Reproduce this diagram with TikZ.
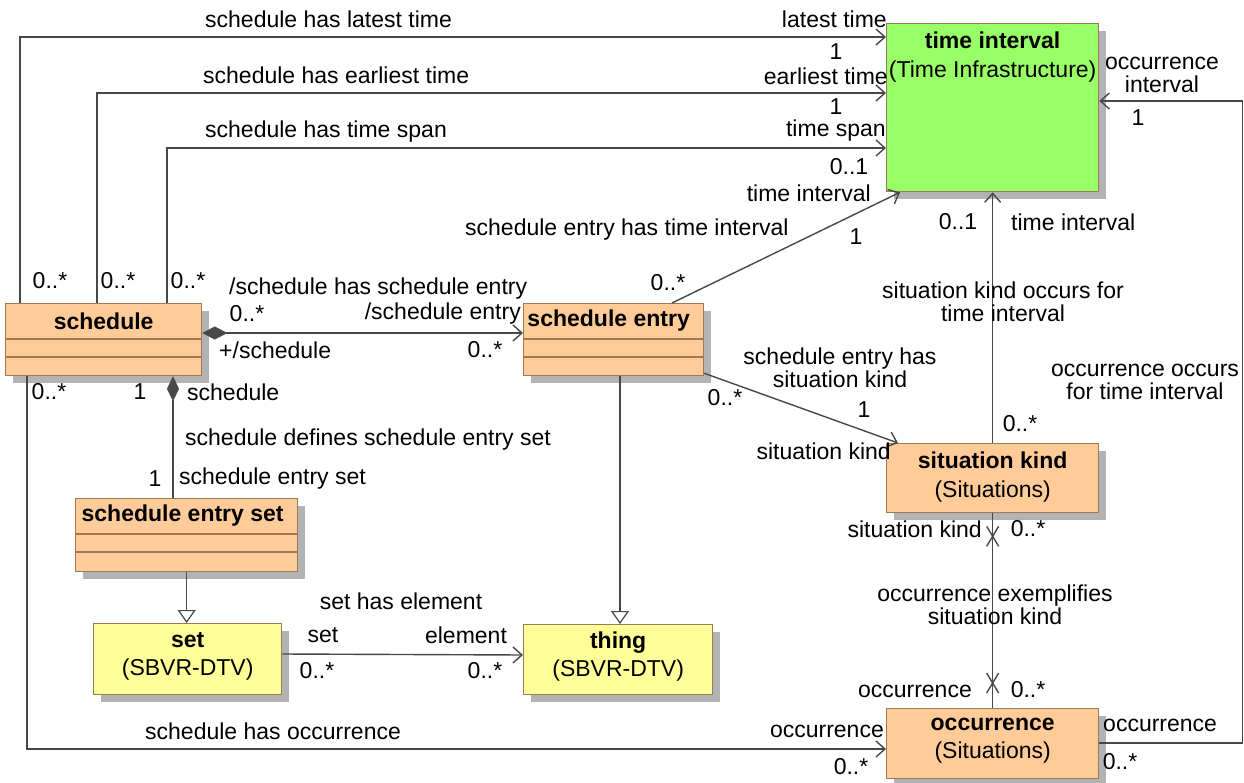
\documentclass[tikz,border=0pt]{standalone}
\usepackage{fontspec}
\setmainfont{Liberation Sans}
\usetikzlibrary{arrows.meta,calc,shadows}
\definecolor{orangef}{HTML}{FFCC99}
\definecolor{greenf}{HTML}{99FF66}
\definecolor{yellowf}{HTML}{FFFF99}
\definecolor{boxd}{HTML}{9C7A58}
\definecolor{shadowc}{HTML}{B3B3B3}
\definecolor{linec}{HTML}{484848}
\newcommand\lblfont{\fontsize{23}{23.5}\selectfont}
\newcommand\ttlfont{\fontsize{23}{28.5}\selectfont}
\tikzset{
  lbl/.style={inner sep=0pt, font=\lblfont, text=black},
  ttl/.style={inner sep=0pt, font=\ttlfont, text=black},
  umlbox/.style={draw=boxd, line width=1.3pt, anchor=north west, inner sep=0pt,
    drop shadow={shadow xshift=7pt, shadow yshift=-7pt, fill=shadowc, opacity=1}},
  compline/.style={draw=boxd, line width=1.3pt},
  conn/.style={draw=linec, line width=1.4pt},
  assoc/.style={conn, -{Straight Barb[length=9pt,width=16pt,line width=1.4pt]}},
  comp/.style={conn, {Diamond[length=25pt,width=13pt,fill=linec,line width=0.5pt]}-{Straight Barb[length=9pt,width=16pt,line width=1.4pt]}},
  compv/.style={conn, {Diamond[length=25pt,width=12pt,fill=linec,line width=0.5pt]}-},
  gen/.style={conn, -{Triangle[open,length=13pt,width=18pt,fill=white,line width=1.2pt]}},
}
\begin{document}
\begin{tikzpicture}[x=1pt,y=-1pt]
\useasboundingbox (0,0) rectangle (1244,783);
% boxes
\node[umlbox, fill=greenf, minimum width=212pt, minimum height=168pt] (ti) at (886,23) {};
\node[umlbox, fill=orangef, minimum width=196pt, minimum height=72pt] (sched) at (5,303) {};
\node[umlbox, fill=orangef, minimum width=180pt, minimum height=72pt] (entry) at (523,303) {};
\node[umlbox, fill=orangef, minimum width=212pt, minimum height=69pt] (sk) at (886,443) {};
\node[umlbox, fill=orangef, minimum width=212pt, minimum height=70pt] (occ) at (886,708) {};
\node[umlbox, fill=orangef, minimum width=222pt, minimum height=73pt] (ses) at (75,498) {};
\node[umlbox, fill=yellowf, minimum width=188pt, minimum height=71pt] (set) at (93,623) {};
\node[umlbox, fill=yellowf, minimum width=189pt, minimum height=70pt] (thing) at (523,624) {};
% compartments
\foreach \b in {sched,entry,ses}{
  \draw[compline] ($(\b.north west)+(0,36)$) -- ($(\b.north east)+(0,36)$);
  \draw[compline] ($(\b.north west)+(0,54)$) -- ($(\b.north east)+(0,54)$);
}
% box titles
\node[ttl, align=center] (tiT) at ($(ti.north)+(0,34)$) {\textbf{time interval}\\(Time Infrastructure)};
\node[ttl] (schedT) at ($(sched.north)+(0,18)$) {\textbf{schedule}};
\node[ttl] (entryT) at ($(entry.north)+(-5,18)$) {\textbf{schedule entry}};
\node[ttl] (sesT) at ($(ses.north)+(-4,18)$) {\textbf{schedule entry set}};
\node[ttl, align=center] (skT) at ($(sk.center)+(0,-1)$) {\textbf{situation kind}\\(Situations)};
\node[ttl, align=center] (occT) at ($(occ.center)+(0,-3)$) {\textbf{occurrence}\\(Situations)};
\node[ttl, align=center] (setT) at ($(set.center)+(0,-3)$) {\textbf{set}\\(SBVR-DTV)};
\node[ttl, align=center] (thingT) at ($(thing.center)+(0,-3)$) {\textbf{thing}\\(SBVR-DTV)};
% helper coordinates
\coordinate (thtop) at ($(thing.north west)+(97,0)$);
\coordinate (occR) at ($(occ.north east)+(0,35)$);
\coordinate (tiR) at ($(ti.north east)+(0,78)$);
\coordinate (rightbend) at ($(occR)+(143,0)$);
% connectors
\draw[assoc] ($(sched.north west)+(15,0)$) |- ($(ti.north west)+(0,14)$);
\draw[assoc] ($(sched.north west)+(92,0)$) |- ($(ti.north west)+(0,70)$);
\draw[assoc] ($(sched.north west)+(162,0)$) |- ($(ti.north west)+(0,125)$);
\draw[assoc] ($(entry.north west)+(149,0)$) -- ($(ti.south west)+(14,0)$);
\draw[assoc] (sk.north) -- (ti.south);
\draw[assoc] ($(entry.south east)+(0,-3)$) -- ($(sk.north west)+(12,0)$);
\draw[comp] ($(sched.north east)+(0,30)$) -- ($(entry.north west)+(0,30)$);
\draw[compv] ($(sched.south west)+(168,0)$) -- ($(ses.north west)+(98,0)$);
\draw[gen] (ses.south) -- (ses.south |- set.north);
\draw[gen] (thtop |- entry.south) -- (thtop);
\draw[assoc] ($(set.north east)+(0,31)$) -- ($(thing.north west)+(0,31)$);
\draw[conn] (sk.south) -- (occ.north);
\draw[conn] ($(sk.south)+(-6,13)$) -- ($(sk.south)+(6,33)$);
\draw[conn] ($(sk.south)+(6,13)$) -- ($(sk.south)+(-6,33)$);
\draw[conn] ($(occ.north)+(-6,-35)$) -- ($(occ.north)+(6,-15)$);
\draw[conn] ($(occ.north)+(6,-35)$) -- ($(occ.north)+(-6,-15)$);
\draw[assoc] (occR) -- (rightbend) |- (tiR);
\draw[assoc] ($(sched.south west)+(22,0)$) |- ($(occ.north west)+(0,41)$);
% labels
\node[lbl, anchor=west] (l1) at (205,19) {schedule has latest time};
\node[lbl, anchor=east] (l2) at (887,19) {latest time};
\node[lbl] (l3) at (836,52) {1};
\node[lbl, anchor=west] (l4) at (203,75) {schedule has earliest time};
\node[lbl, anchor=east] (l5) at (888,76) {earliest time};
\node[lbl] (l6) at (836,107) {1};
\node[lbl, anchor=west] (l7) at (205,132) {schedule has time span};
\node[lbl, anchor=east] (l8) at (886,131) {time span};
\node[lbl] (l9) at (849,167) {0..1};
\node[lbl, anchor=east] (l10) at (871,193) {time interval};
\node[lbl, anchor=west] (l11) at (465,230) {schedule entry has time interval};
\node[lbl] (l12) at (856,237) {1};
\node[lbl] (l13) at (668,283) {0..*};
\node[lbl] (l14) at (958,222) {0..1};
\node[lbl, anchor=west] (l15) at (1011,222) {time interval};
\node[lbl, align=center] (l16) at (1003,302) {situation kind occurs for\\time interval};
\node[lbl, align=center] (l17) at (1162,75) {occurrence\\interval};
\node[lbl] (l18) at (1138,118) {1};
\node[lbl, align=center] (l19) at (1145,382) {occurrence occurs\\for time interval};
\node[lbl] (l20) at (50,281) {0..*};
\node[lbl] (l21) at (118,281) {0..*};
\node[lbl] (l22) at (188,281) {0..*};
\node[lbl, anchor=west] (l23) at (229,289) {/schedule has schedule entry};
\node[lbl] (l24) at (247,314) {0..*};
\node[lbl, anchor=east] (l25) at (521,314) {/schedule entry};
\node[lbl, anchor=west] (l26) at (219,350) {+/schedule};
\node[lbl] (l27) at (485,350) {0..*};
\node[lbl] (l28) at (49,392) {0..*};
\node[lbl] (l29) at (140,392) {1};
\node[lbl, anchor=west] (l30) at (187,392) {schedule};
\node[lbl, anchor=west] (l31) at (185,440) {schedule defines schedule entry set};
\node[lbl] (l32) at (155,479) {1};
\node[lbl, anchor=west] (l33) at (179,479) {schedule entry set};
\node[lbl, align=center] (l34) at (840,368) {schedule entry has\\situation kind};
\node[lbl] (l35) at (725,398) {0..*};
\node[lbl] (l36) at (864,410) {1};
\node[lbl, anchor=east] (l37) at (891,451) {situation kind};
\node[lbl] (l38) at (1020,424) {0..*};
\node[lbl, anchor=east] (l39) at (982,529) {situation kind};
\node[lbl] (l40) at (1028,529) {0..*};
\node[lbl, align=center] (l41) at (995,605) {occurrence exemplifies\\situation kind};
\node[lbl, anchor=east] (l42) at (972,691) {occurrence};
\node[lbl] (l43) at (1028,690) {0..*};
\node[lbl, anchor=east] (l44) at (884,731) {occurrence};
\node[lbl] (l45) at (851,767) {0..*};
\node[lbl, anchor=west] (l46) at (1103,725) {occurrence};
\node[lbl] (l47) at (1120,762) {0..*};
\node[lbl, anchor=west] (l48) at (145,731) {schedule has occurrence};
\node[lbl] (l49) at (401,601) {set has element};
\node[lbl] (l50) at (323,635) {set};
\node[lbl] (l51) at (466,635) {element};
\node[lbl] (l52) at (317,671) {0..*};
\node[lbl] (l53) at (485,671) {0..*};
\end{tikzpicture}
\end{document}
